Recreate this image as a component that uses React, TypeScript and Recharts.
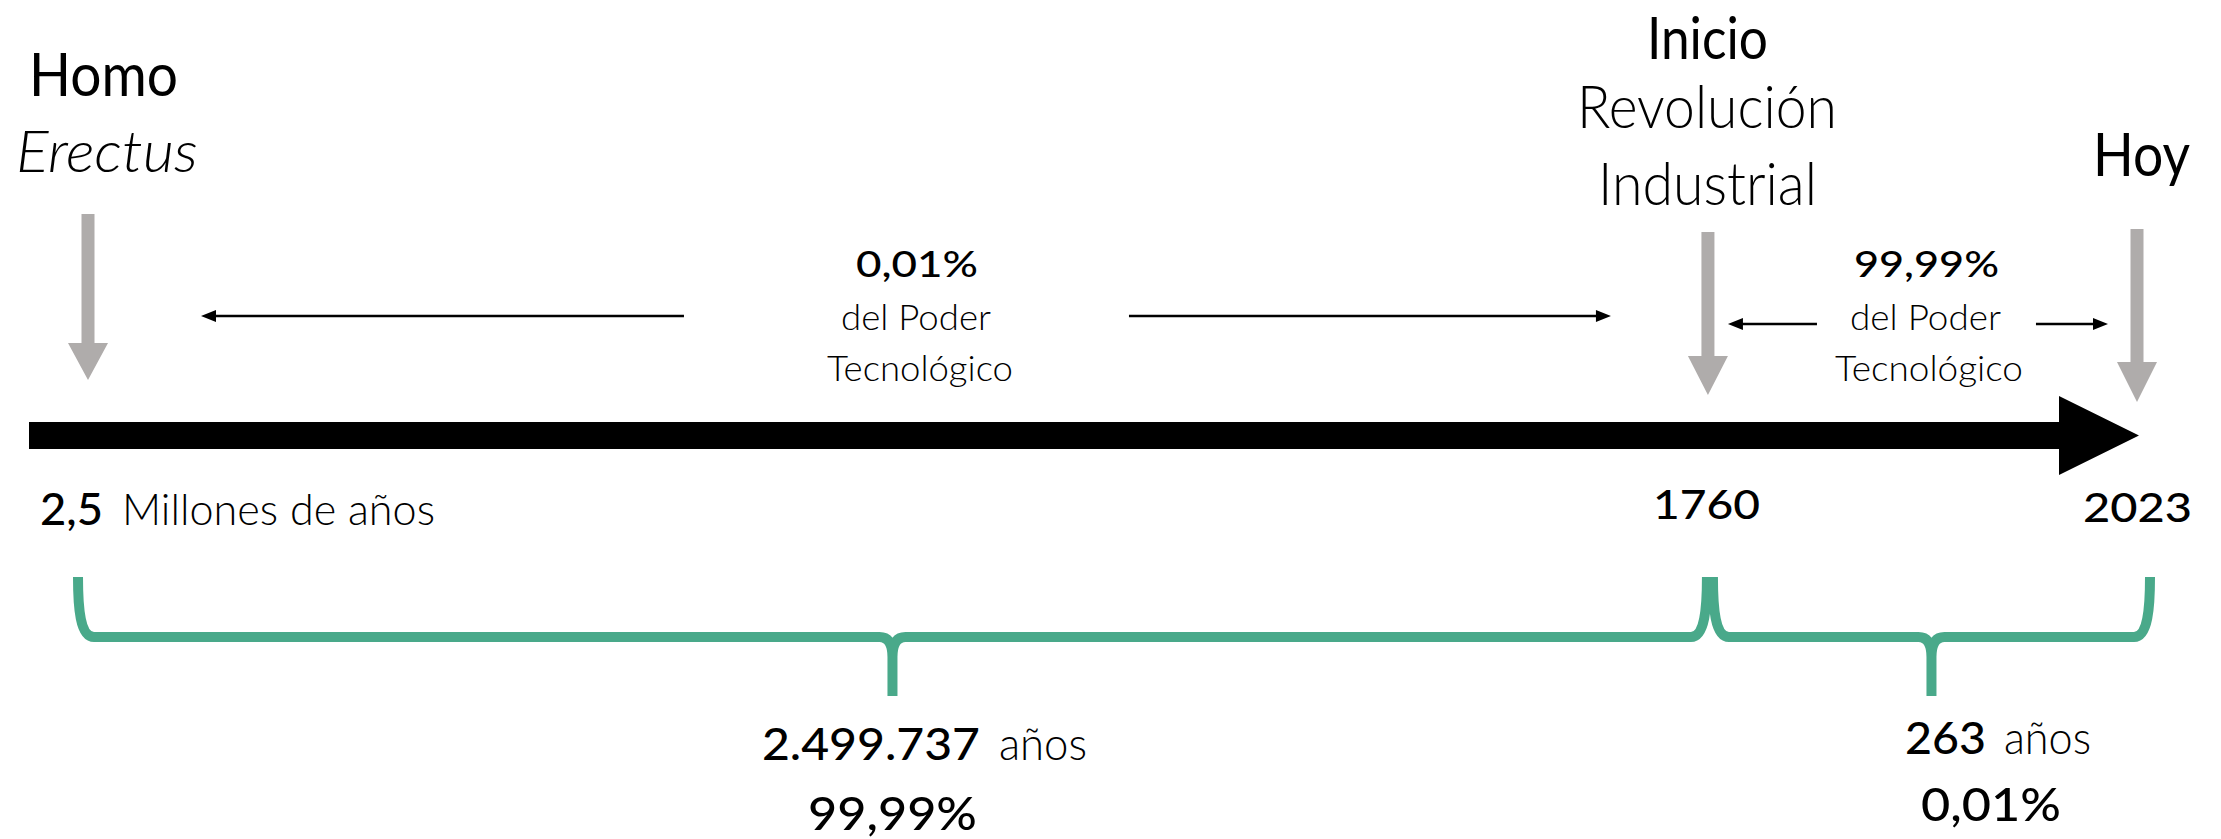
import React from "react";
import { ComposedChart, XAxis, YAxis, Scatter, ReferenceLine } from "recharts";

// --- datos ---
const hitos = ["Homo Erectus", "Inicio Revolución Industrial", "Hoy"];
// posición de cada hito sobre la flecha dibujada (0 = Homo Erectus, 100 = hoy)
const posicionHito = [0, 79.06, 100];
const tituloHito = [["Homo", "Erectus"], ["Inicio", "Revolución", "Industrial"], ["Hoy"]];
const fechaHito = ["2,5", "1760", "2023"];
const fechaUnidad = ["Millones de años", "", ""];

const duracionPeriodo = ["2.499.737", "263"];
const tiempoPeriodo = ["99,99%", "0,01%"];
const poderPeriodo = ["0,01%", "99,99%"];
const poderTexto = ["del Poder", "Tecnológico"];

// --- estilo ---
const FONT = "Lato, 'Open Sans', sans-serif";
const GRIS = "#afacab";
const VERDE = "#49a98a";
const NEGRO = "#000";

type TS = { dx: number; dy: number; w: number; fs: number; fw: number; it?: boolean };

// desplazamientos (px) de cada texto respecto a su hito / al centro del periodo
const tituloLayout: TS[][] = [
  [
    { dx: -59, dy: -339.5, w: 149, fs: 60, fw: 400 },
    { dx: -72, dy: -263.5, w: 182, fs: 58, fw: 300, it: true },
  ],
  [
    { dx: -61, dy: -377, w: 121, fs: 58, fw: 400 },
    { dx: -131, dy: -307.5, w: 260, fs: 60, fw: 300 },
    { dx: -110, dy: -230.5, w: 219, fs: 60, fw: 300 },
  ],
  [{ dx: -44, dy: -259.5, w: 97, fs: 60, fw: 400 }],
];
const fechaLayout: TS[] = [
  { dx: -48, dy: 89.5, w: 63, fs: 44, fw: 500 },
  { dx: -55, dy: 83.5, w: 107, fs: 41, fw: 500 },
  { dx: -54, dy: 86.5, w: 109, fs: 41, fw: 500 },
];
const unidadLayout: TS = { dx: 34, dy: 89.5, w: 313, fs: 44, fw: 300 };

// flecha gris: [inicio del tallo, base de la punta, punta] respecto al eje
const flechaGris = [
  [-221.5, -92.5, -55.5],
  [-203.5, -79.5, -40.5],
  [-206.5, -73.5, -33.5],
];

const periodoLayout = [
  {
    poder: [
      { dx: -42, dy: -158.5, w: 122, fs: 37, fw: 500 },
      { dx: -57, dy: -105.5, w: 150, fs: 36, fw: 300 },
      { dx: -71, dy: -54.5, w: 186, fs: 36, fw: 300 },
    ],
    duracion: { dx: -136, dy: 324.5, w: 218, fs: 45, fw: 500 },
    anios: { dx: 101, dy: 324.5, w: 88, fs: 45, fw: 300 },
    tiempo: { dx: -90, dy: 394, w: 169, fs: 46, fw: 500 },
    flechas: { dy: -119.5, tipL: 113, tailL: -214, tailR: 231, tipR: -97 },
    llave: { padL: -10, padR: -1 },
  },
  {
    poder: [
      { dx: -68.5, dy: -158.5, w: 145, fs: 37, fw: 500 },
      { dx: -72.5, dy: -105.5, w: 151, fs: 36, fw: 300 },
      { dx: -87.5, dy: -54.5, w: 188, fs: 36, fw: 300 },
    ],
    duracion: { dx: -17.5, dy: 318.5, w: 81, fs: 45, fw: 500 },
    anios: { dx: 81.5, dy: 318.5, w: 87, fs: 45, fw: 300 },
    tiempo: { dx: -1.5, dy: 385.5, w: 140, fs: 47, fw: 500 },
    flechas: { dy: -111.5, tipL: 20, tailL: -105.5, tailR: 113.5, tipR: -29 },
    llave: { padL: 5, padR: 13 },
  },
];

const Txt = ({ x, y, s, children }: { x: number; y: number; s: TS; children: string }) => (
  <text
    x={x + s.dx}
    y={y + s.dy}
    fontFamily={FONT}
    fontSize={s.fs}
    fontWeight={s.fw}
    fontStyle={s.it ? "italic" : "normal"}
    textLength={s.w}
    lengthAdjust="spacingAndGlyphs"
    fill={NEGRO}
  >
    {children}
  </text>
);

const eventos = hitos.map((nombre, i) => ({ nombre, i, x: posicionHito[i], y: 0 }));

const HitoShape = (props: any) => {
  const { cx, cy, payload } = props;
  const i = payload.i;
  const [top, base, tip] = flechaGris[i];
  const pts = [
    [cx - 6.5, cy + top],
    [cx + 6.5, cy + top],
    [cx + 6.5, cy + base],
    [cx + 20, cy + base],
    [cx, cy + tip],
    [cx - 20, cy + base],
    [cx - 6.5, cy + base],
  ]
    .map((p) => p.join(","))
    .join(" ");
  return (
    <g>
      <polygon points={pts} fill={GRIS} />
      {tituloHito[i].map((t, k) => (
        <Txt key={k} x={cx} y={cy} s={tituloLayout[i][k]}>
          {t}
        </Txt>
      ))}
      <Txt x={cx} y={cy} s={fechaLayout[i]}>
        {fechaHito[i]}
      </Txt>
      {fechaUnidad[i] && (
        <Txt x={cx} y={cy} s={unidadLayout}>
          {fechaUnidad[i]}
        </Txt>
      )}
    </g>
  );
};

const EjeShape = (props: any) => {
  const { x1, x2, y1 } = props;
  const start = x1 - 59;
  const base = x2 - 78;
  const tip = x2 + 2;
  const h = 13.5;
  const hh = 39.5;
  const pts = `${start},${y1 - h} ${base},${y1 - h} ${base},${y1 - hh} ${tip},${y1} ${base},${y1 + hh} ${base},${y1 + h} ${start},${y1 + h}`;
  return <polygon points={pts} fill={NEGRO} />;
};

const flechaFina = (tail: number, tipX: number, y: number, key: string) => {
  const dir = tipX > tail ? 1 : -1;
  return (
    <g key={key}>
      <line x1={tail} y1={y} x2={tipX - dir * 10} y2={y} stroke={NEGRO} strokeWidth={2.6} />
      <polygon points={`${tipX},${y} ${tipX - dir * 15},${y - 6} ${tipX - dir * 15},${y + 6}`} fill={NEGRO} />
    </g>
  );
};

const periodoShape = (i: number) => (props: any) => {
  const { x1, x2, y1 } = props;
  const L = periodoLayout[i];
  const xc = (x1 + x2) / 2;
  const fy = y1 + L.flechas.dy;
  const xa = x1 + L.llave.padL;
  const xb = x2 + L.llave.padR;
  const xm = (xa + xb) / 2;
  const yT = y1 + 141.5;
  const yH = y1 + 201.5;
  const yTip = y1 + 260.5;
  const lado = (xe: number, s: number) =>
    `M${xe},${yT} C${xe},${yH - 30} ${xe + s * 2},${yH} ${xe + s * 16},${yH} L${xm - s * 13},${yH} Q${xm},${yH} ${xm},${yH + 20} L${xm},${yTip}`;
  return (
    <g>
      {flechaFina(xc + L.flechas.tailL, x1 + L.flechas.tipL, fy, "l")}
      {flechaFina(xc + L.flechas.tailR, x2 + L.flechas.tipR, fy, "r")}
      {[poderPeriodo[i], ...poderTexto].map((t, k) => (
        <Txt key={k} x={xc} y={y1} s={L.poder[k]}>
          {t}
        </Txt>
      ))}
      <path d={`${lado(xa, 1)} ${lado(xb, -1)}`} fill="none" stroke={VERDE} strokeWidth={10} strokeLinejoin="round" />
      <Txt x={xc} y={y1} s={L.duracion}>
        {duracionPeriodo[i]}
      </Txt>
      <Txt x={xc} y={y1} s={L.anios}>
        años
      </Txt>
      <Txt x={xc} y={y1} s={L.tiempo}>
        {tiempoPeriodo[i]}
      </Txt>
    </g>
  );
};

export default function App() {
  return (
    <div style={{ position: "absolute", left: 0, top: 0, width: 2221, height: 839, background: "#fff" }}>
      <ComposedChart width={2221} height={839} margin={{ top: 32, right: 84, bottom: 0, left: 88 }} data={eventos}>
        <XAxis type="number" dataKey="x" domain={[0, 100]} hide />
        <YAxis type="number" dataKey="y" domain={[-1, 1]} hide />
        <ReferenceLine
          ifOverflow="visible"
          segment={[
            { x: posicionHito[0], y: 0 },
            { x: posicionHito[2], y: 0 },
          ]}
          shape={EjeShape}
        />
        {[0, 1].map((i) => (
          <ReferenceLine
            key={i}
            ifOverflow="visible"
            segment={[
              { x: posicionHito[i], y: 0 },
              { x: posicionHito[i + 1], y: 0 },
            ]}
            shape={periodoShape(i)}
          />
        ))}
        <Scatter data={eventos} dataKey="y" shape={HitoShape} isAnimationActive={false} />
      </ComposedChart>
    </div>
  );
}
